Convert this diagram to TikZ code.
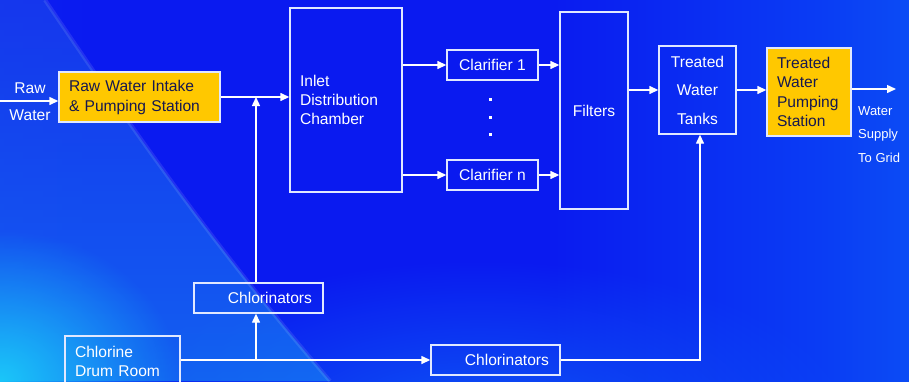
\documentclass[tikz,border=0pt]{standalone}
\usepackage{fontspec}
\setmainfont{Liberation Sans}
\usetikzlibrary{arrows.meta,fadings}
\definecolor{bg0}{RGB}{25,70,236}
\definecolor{bg1}{RGB}{14,40,240}
\definecolor{bgD}{RGB}{10,26,240}
\definecolor{bg2}{RGB}{10,60,244}
\definecolor{bg3}{RGB}{14,105,246}
\definecolor{bgR}{RGB}{26,135,246}
\definecolor{wedgeT}{RGB}{26,66,236}
\definecolor{wedgeB}{RGB}{22,125,242}
\definecolor{lowc}{RGB}{14,88,245}
\definecolor{cyanc}{RGB}{28,210,250}
\definecolor{boxline}{RGB}{225,232,255}
\definecolor{goldc}{RGB}{255,200,0}
\definecolor{navyt}{RGB}{22,24,80}
\pgfdeclarehorizontalshading{bgmain}{100bp}{color(0bp)=(bg0); color(15bp)=(bg1); color(30bp)=(bgD); color(55bp)=(bgD); color(70bp)=(bg2); color(85bp)=(bg3); color(100bp)=(bgR)}
\tikzfading[name=softcirc, inner color=transparent!0, outer color=transparent!100]
\begin{document}
\begin{tikzpicture}[x=1pt,y=-1pt,
  box/.style={draw=boxline, line width=1.4pt, rectangle, inner sep=0pt, text=white, font=\fontsize{15.6}{19}\selectfont},
  gold/.style={box, fill=goldc, text=navyt},
  conn/.style={draw=white, line width=1.4pt},
  arr/.style={conn, -{Triangle[length=9pt,width=8pt]}},
  lbl/.style={text=white, inner sep=0pt, font=\fontsize{15.6}{19}\selectfont},
  slbl/.style={text=white, inner sep=0pt, font=\fontsize{13}{16}\selectfont, anchor=base west}]
\useasboundingbox (0,0) rectangle (909,381);
\clip (0,0) rectangle (909,381);
% background
\shade[shading=bgmain] (0,0) rectangle (909,381);
\fill[lowc, path fading=softcirc] (480,430) ellipse (380pt and 170pt);
\shade[top color=wedgeT, bottom color=wedgeB, opacity=0.7] (0,0) -- (45,0) .. controls (120,110) and (200,230) .. (330,381) -- (0,381) -- cycle;
\fill[cyanc, path fading=softcirc, opacity=0.9] (0,381) ellipse (180pt and 150pt);
\draw[white, opacity=0.1, line width=4pt] (45,0) .. controls (120,110) and (200,230) .. (330,381);
% nodes
\node[gold, minimum width=161pt, minimum height=50pt, text width=141pt, align=left, font=\fontsize{15.6}{20}\selectfont] (raw) at (139.5,97) {Raw Water Intake\\\& Pumping Station};
\node[box, minimum width=112pt, minimum height=184pt, text width=92pt, align=left] (inlet) at (346,100) {Inlet\\Distribution\\Chamber};
\node[box, minimum width=91pt, minimum height=30pt] (c1) at (492.5,65) {Clarifier 1};
\node[box, minimum width=91pt, minimum height=30pt] (cn) at (492.5,175) {Clarifier n};
\node[box, minimum width=68pt, minimum height=197pt] (filters) at (594,110.5) {Filters};
\node[box, minimum width=77pt, minimum height=88pt, text width=77pt, align=center, font=\fontsize{15.6}{28.5}\selectfont] (tanks) at (697.5,90) {Treated\\Water\\Tanks};
\node[gold, minimum width=84pt, minimum height=88pt, text width=64pt, align=left, font=\fontsize{15.6}{19.5}\selectfont] (twps) at (809,92) {Treated\\Water\\Pumping\\Station};
\node[box, minimum width=129pt, minimum height=30pt, text width=107pt, align=right] (chl1) at (258.5,298) {Chlorinators};
\node[box, minimum width=129pt, minimum height=30pt, text width=107pt, align=right] (chl2) at (495.5,360) {Chlorinators};
\node[box, minimum width=115pt, minimum height=51pt, text width=95pt, align=left] (drum) at (122.5,361.5) {Chlorine\\Drum Room};
% labels
\node[lbl, anchor=base] (lraw) at (30,93) {Raw};
\node[lbl, anchor=base] (lwater) at (30,120.5) {Water};
\node[slbl] (gw) at (858,115.5) {Water};
\node[slbl] (gs) at (858,138.5) {Supply};
\node[slbl] (gg) at (858,162.5) {To Grid};
% dots
\fill[white] (488.5,97.5) rectangle ++(3,3);
\fill[white] (488.5,115.5) rectangle ++(3,3);
\fill[white] (488.5,132.5) rectangle ++(3,3);
% connectors
\coordinate (rawin) at (0,101);
\coordinate (j1) at (256,97);
\coordinate (j2) at (256,360);
\coordinate (j3) at (700,360);
\coordinate (out) at (896,89);
\draw[arr] (rawin) -- (rawin -| raw.west);
\draw[arr] (raw.east) -- (raw.east -| inlet.west);
\draw[arr] (chl1.north -| j1) -- (j1);
\draw[arr] (drum.east |- j2) -- (chl2.west);
\draw[arr] (j2) -- (chl1.south -| j2);
\draw[arr] (chl2.east) -- (j3) -- (tanks.south -| j3);
\draw[arr] (inlet.east |- c1.west) -- (c1.west);
\draw[arr] (inlet.east |- cn.west) -- (cn.west);
\draw[arr] (c1.east) -- (c1.east -| filters.west);
\draw[arr] (cn.east) -- (cn.east -| filters.west);
\draw[arr] (filters.east |- tanks.west) -- (tanks.west);
\draw[arr] (tanks.east) -- (tanks.east -| twps.west);
\draw[arr] (twps.east |- out) -- (out);
\end{tikzpicture}
\end{document}
